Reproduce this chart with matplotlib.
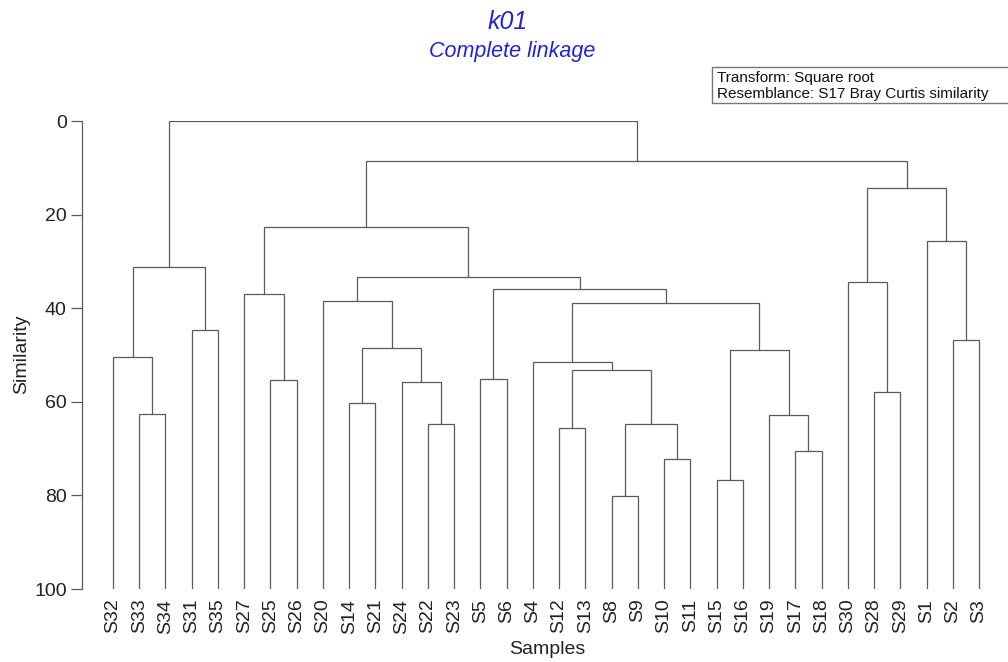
import matplotlib
matplotlib.use("Agg")
import matplotlib.pyplot as plt
from matplotlib.patches import Rectangle

plt.rcParams['font.family'] = ['Liberation Sans', 'DejaVu Sans']

# leaves in plotting order
samples = ["S32", "S33", "S34", "S31", "S35", "S27", "S25", "S26", "S20", "S14",
           "S21", "S24", "S22", "S23", "S5", "S6", "S4", "S12", "S13", "S8",
           "S9", "S10", "S11", "S15", "S16", "S19", "S17", "S18", "S30", "S28",
           "S29", "S1", "S2", "S3"]

# merges, linkage style: ids < 34 are leaves, merge k gets id 34 + k
merge_left = [19, 23, 21, 26, 17, 12, 34, 25, 1, 9, 29, 11, 6, 14, 38, 16, 0,
              35, 43, 32, 3, 49, 8, 5, 47, 28, 56, 50, 31, 57, 59, 63, 61]
merge_right = [20, 24, 22, 27, 18, 13, 36, 37, 2, 10, 30, 39, 7, 15, 40, 48, 42,
               41, 45, 33, 4, 51, 52, 46, 55, 44, 58, 54, 53, 60, 62, 64, 65]
merge_sim = [80.1, 76.8, 72.3, 70.5, 65.5, 64.7, 64.7, 62.9, 62.5, 60.3, 57.9,
             55.8, 55.3, 55.2, 53.1, 51.6, 50.4, 48.9, 48.6, 46.9, 44.7, 38.8,
             38.4, 37.0, 35.8, 34.3, 33.3, 31.2, 25.6, 22.7, 14.3, 8.6, 0.0]

W, H = 1008, 662
fig = plt.figure(figsize=(W / 100, H / 100), dpi=100)
ax = fig.add_axes([82 / W, 1 - 589 / H, (1005 - 82) / W, (589 - 121) / H])

line_col = "#5a5a5a"
n = len(samples)
xpos = list(range(n))
ypos = [100.0] * n
for a, b, s in zip(merge_left, merge_right, merge_sim):
    ax.plot([xpos[a], xpos[a], xpos[b], xpos[b]], [ypos[a], s, s, ypos[b]],
            color=line_col, lw=0.9, solid_joinstyle="miter")
    xpos.append((xpos[a] + xpos[b]) / 2)
    ypos.append(s)

ax.set_xlim(-1.18, 33 + 26 / 26.24)
ax.set_ylim(100, 0)
ax.set_yticks([0, 20, 40, 60, 80, 100])
ax.set_xticks(range(n))
ax.set_xticklabels(samples, rotation=90)
ax.tick_params(axis="x", length=0, pad=7, labelsize=14, labelcolor="#222222")
ax.tick_params(axis="y", length=8, width=0.9, color=line_col, pad=3,
               labelsize=14, labelcolor="#222222")
for side in ["top", "right", "bottom"]:
    ax.spines[side].set_visible(False)
ax.spines["left"].set_color(line_col)
ax.spines["left"].set_linewidth(0.9)

fig.text(22 / W, 1 - 354 / H, "Similarity", rotation=90, ha="center",
         va="center", fontsize=14, color="#222222")
fig.text(547 / W, 1 - 650 / H, "Samples", ha="center", va="center",
         fontsize=14, color="#222222")

blue = "#2222dd"
fig.text(508 / W, 1 - 22 / H, "k01", ha="center", va="center", fontsize=18,
         style="italic", color=blue)
fig.text(512 / W, 1 - 51 / H, "Complete linkage", ha="center", va="center",
         fontsize=15.5, style="italic", color=blue)

# info box, top right
fig.patches.append(Rectangle((712 / W, 1 - 103 / H), 300 / W, 36 / H,
                             transform=fig.transFigure, fill=False,
                             edgecolor="#777777", lw=1.0))
fig.text(717 / W, 1 - 78 / H, "Transform: Square root", ha="left",
         va="center", fontsize=11, color="#111111")
fig.text(717 / W, 1 - 94 / H, "Resemblance: S17 Bray Curtis similarity",
         ha="left", va="center", fontsize=11, color="#111111")

fig.savefig("out.png", dpi=100)
